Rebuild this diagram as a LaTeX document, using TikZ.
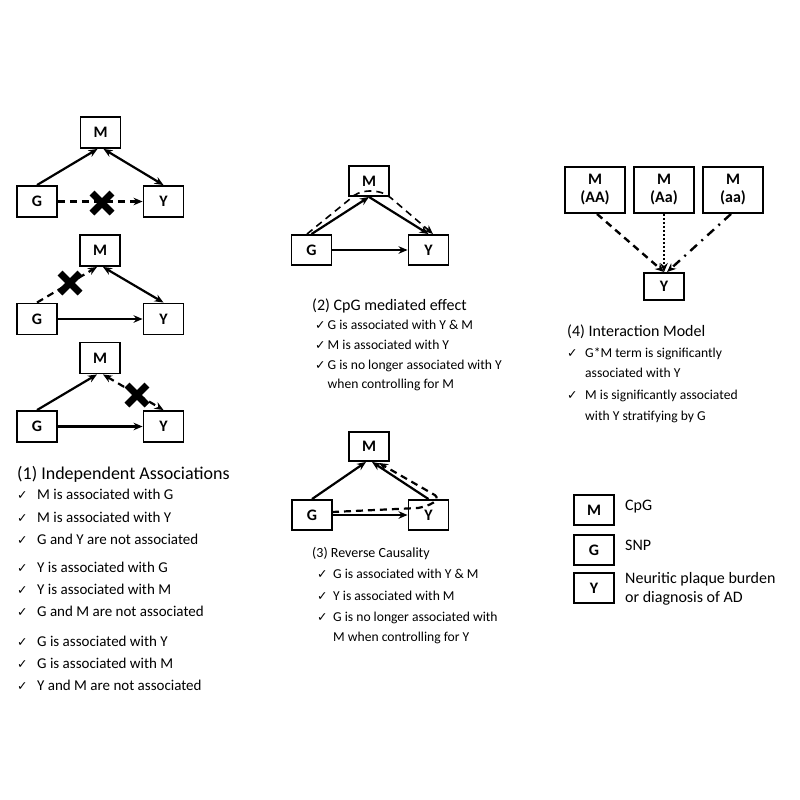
\documentclass[tikz,border=0pt]{standalone}
\usepackage{fontspec}
\setmainfont{Carlito}
\newfontfamily\dejavu{DejaVu Sans}
\usetikzlibrary{arrows.meta}
\newcommand\chkbox[1]{\makebox[#1][l]{{\dejavu\fontsize{12.5}{13}\selectfont ✓}}}
\begin{document}
\begin{tikzpicture}[x=1pt,y=-1pt,
  box/.style={draw, line width=1.9pt, minimum width=40pt, minimum height=31pt, inner sep=0pt, font=\bfseries\fontsize{16}{18}\selectfont},
  tip/.tip={Stealth[length=9pt,width=7.5pt]},
  arr/.style={line width=2.2pt, -tip},
  darr/.style={line width=2.2pt, tip-tip},
  dsh/.style={dash pattern=on 7pt off 5pt},
  xmark/.style={line width=7pt},
  tl/.style={anchor=base west, inner sep=0pt},
  ti/.style={tl, font=\fontsize{15}{17}\selectfont},
  tm/.style={tl, font=\fontsize{13.6}{16}\selectfont}
]
\useasboundingbox (0,0) rectangle (800,800);

% ---------- (1a)
\node[box] (m1) at (100.5,132.5) {M};
\node[box] (g1) at (37,201.5) {G};
\node[box] (y1) at (163.5,201.5) {Y};
\draw[arr] (g1.north) -- ([xshift=-3pt]m1.south);
\draw[darr] ([xshift=3pt]m1.south) -- (y1.north);
\draw[arr,dsh] (g1.east) -- (y1.west);
\draw[xmark] (92,193) -- (112,213) (92,213) -- (112,193);

% ---------- (1b)
\node[box] (m2) at (100,250.5) {M};
\node[box] (g2) at (37,319) {G};
\node[box] (y2) at (163.5,319) {Y};
\draw[arr,dsh] (g2.north) -- ([xshift=-3pt]m2.south);
\draw[darr] ([xshift=3pt]m2.south) -- (y2.north);
\draw[arr] (g2.east) -- (y2.west);
\draw[xmark] (60,273) -- (80,293) (60,293) -- (80,273);

% ---------- (1c)
\node[box] (m3) at (100,358) {M};
\node[box] (g3) at (37,426.5) {G};
\node[box] (y3) at (163.5,426.5) {Y};
\draw[arr] (g3.north) -- ([xshift=-3pt]m3.south);
\draw[darr,dsh] ([xshift=3pt]m3.south) -- (y3.north);
\draw[arr] (g3.east) -- (y3.west);
\draw[xmark] (127,385) -- (147,405) (127,405) -- (147,385);

% ---------- (1) text
\node[tl, font=\fontsize{18}{20}\selectfont] (t1) at (17,479) {(1) Independent Associations};
\node[ti] (t1a) at (17,499) {\chkbox{20pt}M is associated with G};
\node[ti] (t1b) at (17,522) {\chkbox{20pt}M is associated with Y};
\node[ti] (t1c) at (17,544) {\chkbox{20pt}G and Y are not associated};
\node[ti] (t1d) at (17,572) {\chkbox{20pt}Y is associated with G};
\node[ti] (t1e) at (17,594) {\chkbox{20pt}Y is associated with M};
\node[ti] (t1f) at (17,616) {\chkbox{20pt}G and M are not associated};
\node[ti] (t1g) at (17,646) {\chkbox{20pt}G is associated with Y};
\node[ti] (t1h) at (17,668) {\chkbox{20pt}G is associated with M};
\node[ti] (t1i) at (17,690) {\chkbox{20pt}Y and M are not associated};

% ---------- (2) CpG mediated
\node[box, minimum height=30pt] (mm) at (369,181) {M};
\node[box, minimum height=30pt] (gm) at (311.5,250) {G};
\node[box, minimum height=30pt] (ym) at (428.5,250) {Y};
\draw[arr] (gm.north) -- (mm.south);
\draw[arr] (mm.south) -- (ym.north);
\draw[arr, line width=2.8pt] (gm.east) -- (ym.west);
\draw[line width=1.6pt, dsh, -tip] (307,234) -- (350,199) .. controls (358,189) and (380,188) .. (391,198) -- (433,234);

\node[tl, font=\fontsize{16}{18}\selectfont] (t2) at (312,310) {(2) CpG mediated effect};
\node[tm] (t2a) at (315,329.5) {\chkbox{12.5pt}G is associated with Y \& M};
\node[tm] (t2b) at (315,349.5) {\chkbox{12.5pt}M is associated with Y};
\node[tm] (t2c) at (315,369.5) {\chkbox{12.5pt}G is no longer associated with Y};
\node[tm] (t2d) at (327.5,388.5) {when controlling for M};

% ---------- (3) Reverse causality
\node[box, minimum height=29pt] (mr) at (369,446.5) {M};
\node[box, minimum height=30pt] (gr) at (312,515) {G};
\node[box, minimum height=30pt] (yr) at (428.5,515) {Y};
\draw[arr] (gr.north) -- ([xshift=-3pt]mr.south);
\draw[arr] (yr.north) -- ([xshift=3pt]mr.south);
\draw[arr] (gr.east) -- (yr.west);
\draw[line width=2.2pt, dsh, -tip] (332,512) -- (418,508) .. controls (438,504) and (440,497) .. (433,494) -- (379,463);

\node[tl, font=\fontsize{14}{16}\selectfont] (t3) at (312,557) {(3) Reverse Causality};
\node[tm] (t3a) at (317,578.5) {\chkbox{16pt}G is associated with Y \& M};
\node[tm] (t3b) at (317,600) {\chkbox{16pt}Y is associated with M};
\node[tm] (t3c) at (317,621) {\chkbox{16pt}G is no longer associated with};
\node[tm] (t3d) at (333,641.5) {M when controlling for Y};

% ---------- (4) Interaction model
\node[box, minimum width=60pt, minimum height=46pt, align=center] (ma) at (595,190) {M\\(AA)};
\node[box, minimum width=60pt, minimum height=46pt, align=center] (mb) at (664,190) {M\\(Aa)};
\node[box, minimum width=60pt, minimum height=46pt, align=center] (mc) at (733,190) {M\\(aa)};
\node[box, minimum height=27pt] (yi) at (664,286.5) {Y};
\draw[line width=2.4pt, dash pattern=on 7pt off 5pt, -tip] ([xshift=2pt]ma.south) -- (yi.north);
\draw[line width=2.4pt, dash pattern=on 2pt off 2pt, -tip] (mb.south) -- (yi.north);
\draw[line width=2.4pt, dash pattern=on 9pt off 6pt on 2pt off 6pt, -tip] ([xshift=-2pt]mc.south) -- ([xshift=3pt]yi.north);

\node[tl, font=\fontsize{16}{18}\selectfont] (t4) at (567,336.5) {(4) Interaction Model};
\node[tm] (t4a) at (567,357.5) {\chkbox{18pt}G*M term is significantly};
\node[tm] (t4b) at (585,377.5) {associated with Y};
\node[tm] (t4c) at (567,399.5) {\chkbox{18pt}M is significantly associated};
\node[tm] (t4d) at (585,420.5) {with Y stratifying by G};

% ---------- legend
\node[box, minimum height=30pt] (lm) at (594,510) {M};
\node[box, minimum height=30pt] (lg) at (594,550) {G};
\node[box, minimum height=30pt] (ly) at (594,588) {Y};
\node[tl, font=\fontsize{16}{18}\selectfont] (lmt) at (625,510.5) {CpG};
\node[tl, font=\fontsize{16}{18}\selectfont] (lgt) at (625,550.5) {SNP};
\node[tl, font=\fontsize{16}{18}\selectfont] (lyt) at (625,583.5) {Neuritic plaque burden};
\node[tl, font=\fontsize{16}{18}\selectfont] (lyt2) at (625,602.5) {or diagnosis of AD};
\end{tikzpicture}
\end{document}
